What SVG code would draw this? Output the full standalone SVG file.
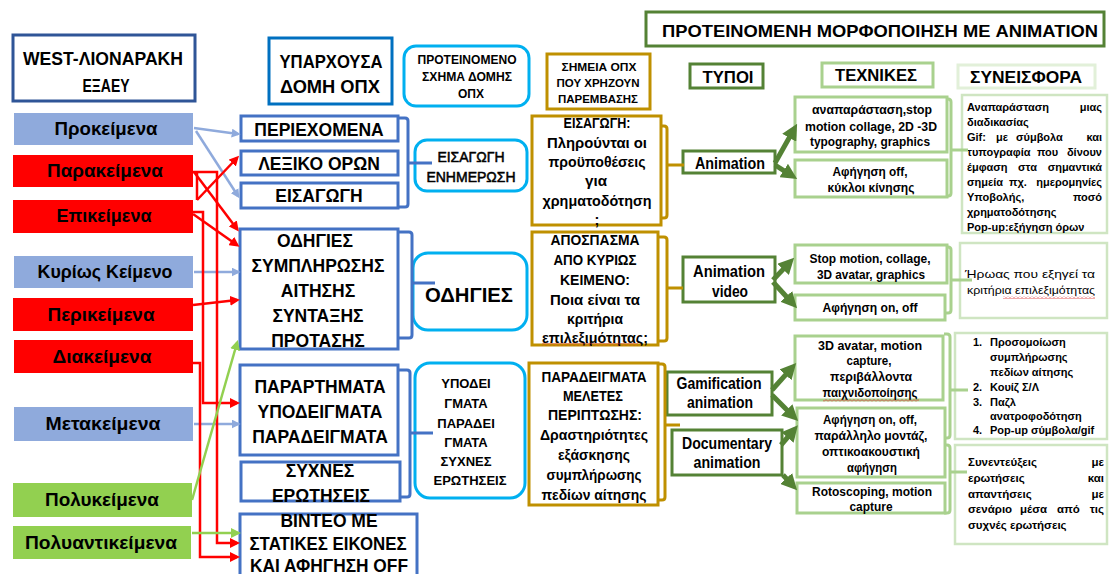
<svg xmlns="http://www.w3.org/2000/svg" width="1110" height="574" viewBox="0 0 1110 574">
<style>
text{font-family:"Liberation Sans",Arial,sans-serif;fill:#000}
.b{font-weight:bold}
.c{text-anchor:middle}
.e{text-anchor:end}
.bx{fill:#fff}
.lbl{font-weight:bold;text-anchor:middle;font-size:17.5px}
.mid{font-weight:bold;text-anchor:middle;font-size:17.5px}
.blue{stroke:#4472c4;stroke-width:3}
.gold{fill:#fff;stroke:#bf9000;stroke-width:3}
.gt{font-weight:bold;text-anchor:middle;font-size:14.5px}
.dg{fill:#fff;stroke:#548235;stroke-width:3}
.lg{fill:#fff;stroke:#a9d18e;stroke-width:3}
.cg{fill:#fff;stroke:#cfe5c2;stroke-width:2.5}
.tt{font-weight:bold;text-anchor:middle;font-size:12.5px}
.ct{font-weight:bold;font-size:11px}
.c4{font-weight:bold;font-size:11.5px}
.ty{font-weight:bold;text-anchor:middle;font-size:16px}
.rb{fill:#fff;stroke:#00b0f0;stroke-width:3}
.yp{font-weight:bold;text-anchor:middle;font-size:13px}
.br{fill:none;stroke-width:3;stroke-linejoin:round}
.ar{fill:none;stroke-width:2.5}
.thick{fill:none;stroke:#548235;stroke-width:5}
</style>
<defs>
<marker id="mb" viewBox="0 0 10 10" refX="7" refY="5" markerWidth="9" markerHeight="9" markerUnits="userSpaceOnUse" orient="auto"><path d="M0,0 L10,5 L0,10 z" fill="#8faadc"/></marker>
<marker id="mr" viewBox="0 0 10 10" refX="7" refY="5" markerWidth="10" markerHeight="10" markerUnits="userSpaceOnUse" orient="auto"><path d="M0,0 L10,5 L0,10 z" fill="#ff0000"/></marker>
<marker id="mg" viewBox="0 0 10 10" refX="7" refY="5" markerWidth="10" markerHeight="10" markerUnits="userSpaceOnUse" orient="auto"><path d="M0,0 L10,5 L0,10 z" fill="#92d050"/></marker>
<marker id="md" viewBox="0 0 10 10" refX="3" refY="5" markerWidth="16" markerHeight="16" markerUnits="userSpaceOnUse" orient="auto"><path d="M0,0 L10,5 L0,10 z" fill="#548235"/></marker>
<pattern id="sq" width="4" height="3" patternUnits="userSpaceOnUse"><path d="M0,2.5 L2,0.5 L4,2.5" stroke="#e03030" stroke-width="0.8" fill="none"/></pattern>
</defs>
<rect width="1110" height="574" fill="#fff"/>

<g id="title"><rect x="646" y="12" width="458" height="34" class="dg"/><text x="880" y="36.5" class="b c" font-size="17" textLength="436" lengthAdjust="spacingAndGlyphs">ΠΡΟΤΕΙΝΟΜΕΝΗ ΜΟΡΦΟΠΟΙΗΣΗ ΜΕ ANIMATION</text></g>

<g id="west"><rect x="13" y="35" width="182" height="66" class="bx" stroke="#2f5597" stroke-width="3"/><text x="103" y="65" class="b c" font-size="19" textLength="160" lengthAdjust="spacingAndGlyphs">WEST-ΛΙΟΝΑΡΑΚΗ</text><text x="106" y="92" class="b c" font-size="19" textLength="47" lengthAdjust="spacingAndGlyphs">ΕΞΑΕΥ</text></g>

<g id="yparxousa"><rect x="269" y="38" width="123" height="66" class="bx" stroke="#0070c0" stroke-width="3"/><text x="331" y="68" class="b c" font-size="18.5" textLength="103" lengthAdjust="spacingAndGlyphs">ΥΠΑΡΧΟΥΣΑ</text><text x="330" y="93" class="b c" font-size="18.5" textLength="100" lengthAdjust="spacingAndGlyphs">ΔΟΜΗ ΟΠΧ</text></g>

<g id="proteinomeno"><rect x="404" y="46" width="125" height="60" rx="12" class="rb"/><text x="467" y="64" class="b c" font-size="12" textLength="99" lengthAdjust="spacingAndGlyphs">ΠΡΟΤΕΙΝΟΜΕΝΟ</text><text x="467" y="81" class="b c" font-size="12" textLength="90" lengthAdjust="spacingAndGlyphs">ΣΧΗΜΑ ΔΟΜΗΣ</text><text x="471" y="98" class="b c" font-size="12">ΟΠΧ</text></g>

<g id="simeia"><rect x="547" y="54" width="103" height="55" class="gold"/><text x="599" y="71" class="b c" font-size="11" textLength="75" lengthAdjust="spacingAndGlyphs">ΣΗΜΕΙΑ ΟΠΧ</text><text x="598" y="87" class="b c" font-size="11" textLength="83" lengthAdjust="spacingAndGlyphs">ΠΟΥ ΧΡΗΖΟΥΝ</text><text x="598" y="103" class="b c" font-size="11" textLength="80" lengthAdjust="spacingAndGlyphs">ΠΑΡΕΜΒΑΣΗΣ</text></g>

<g id="typoi"><rect x="690" y="64" width="73" height="24" class="dg"/><text x="728" y="83" class="ty" textLength="51" lengthAdjust="spacingAndGlyphs">ΤΥΠΟΙ</text></g>
<g id="texnikes"><rect x="822" y="63" width="111" height="24" class="lg"/><text x="876" y="81" class="ty" textLength="82" lengthAdjust="spacingAndGlyphs">ΤΕΧΝΙΚΕΣ</text></g>
<g id="syneisfora"><rect x="958" y="65" width="137" height="23" class="bx" stroke="#e2f0d9" stroke-width="3"/><text x="1026" y="83" class="ty" textLength="112" lengthAdjust="spacingAndGlyphs">ΣΥΝΕΙΣΦΟΡΑ</text></g>

<g id="prokeimena"><rect x="14" y="113" width="179" height="32" fill="#8faadc"/><text x="106" y="135" class="lbl" textLength="103" lengthAdjust="spacingAndGlyphs">Προκείμενα</text></g>
<g id="parakeimena"><rect x="13" y="155" width="180" height="32" fill="#ff0000"/><text x="105" y="177" class="lbl" textLength="116" lengthAdjust="spacingAndGlyphs">Παρακείμενα</text></g>
<g id="epikeimena"><rect x="13" y="200" width="180" height="33" fill="#ff0000"/><text x="104" y="222" class="lbl" textLength="95" lengthAdjust="spacingAndGlyphs">Επικείμενα</text></g>
<g id="kyrios"><rect x="14" y="256" width="179" height="32" fill="#8faadc"/><text x="105" y="278" class="lbl" textLength="135" lengthAdjust="spacingAndGlyphs">Κυρίως Κείμενο</text></g>
<g id="perikeimena"><rect x="13" y="298" width="180" height="33" fill="#ff0000"/><text x="101" y="321" class="lbl" textLength="107" lengthAdjust="spacingAndGlyphs">Περικείμενα</text></g>
<g id="diakeimena"><rect x="14" y="340" width="179" height="33" fill="#ff0000"/><text x="102" y="363" class="lbl" textLength="99" lengthAdjust="spacingAndGlyphs">Διακείμενα</text></g>
<g id="metakeimena"><rect x="14" y="407" width="179" height="34" fill="#8faadc"/><text x="103" y="430" class="lbl" textLength="115" lengthAdjust="spacingAndGlyphs">Μετακείμενα</text></g>
<g id="polykeimena"><rect x="13" y="483" width="179" height="34" fill="#92d050"/><text x="102" y="506" class="lbl" textLength="114" lengthAdjust="spacingAndGlyphs">Πολυκείμενα</text></g>
<g id="polyantikeimena"><rect x="13" y="526" width="178" height="33" fill="#92d050"/><text x="101" y="549" class="lbl" textLength="152" lengthAdjust="spacingAndGlyphs">Πολυαντικείμενα</text></g>

<g id="periexomena"><rect x="241" y="116" width="157" height="25" class="bx blue"/><text x="319" y="136" class="mid">ΠΕΡΙΕΧΟΜΕΝΑ</text></g>
<g id="lexiko"><rect x="241" y="151" width="157" height="24" class="bx blue"/><text x="319" y="170" class="mid">ΛΕΞΙΚΟ ΟΡΩΝ</text></g>
<g id="eisagogi"><rect x="241" y="183" width="157" height="25" class="bx blue"/><text x="319" y="202" class="mid">ΕΙΣΑΓΩΓΗ</text></g>
<g id="odigies"><rect x="240" y="229" width="158" height="120" class="bx blue"/>
<text x="315" y="247" class="mid">ΟΔΗΓΙΕΣ</text>
<text x="318" y="272" class="mid">ΣΥΜΠΛΗΡΩΣΗΣ</text>
<text x="318" y="297" class="mid">ΑΙΤΗΣΗΣ</text>
<text x="318" y="322" class="mid">ΣΥΝΤΑΞΗΣ</text>
<text x="318" y="347" class="mid">ΠΡΟΤΑΣΗΣ</text></g>
<g id="parartimata"><rect x="240" y="365" width="158" height="90" class="bx blue"/>
<text x="320" y="393" class="mid">ΠΑΡΑΡΤΗΜΑΤΑ</text>
<text x="320" y="418" class="mid">ΥΠΟΔΕΙΓΜΑΤΑ</text>
<text x="320" y="443" class="mid">ΠΑΡΑΔΕΙΓΜΑΤΑ</text></g>
<g id="syxnes"><rect x="241" y="462" width="159" height="39" class="bx blue"/>
<text x="320" y="476.5" class="mid">ΣΥΧΝΕΣ</text>
<text x="321" y="501.5" class="mid">ΕΡΩΤΗΣΕΙΣ</text></g>
<g id="vinteo"><rect x="240" y="514" width="177" height="70" class="bx blue"/>
<text x="329" y="527" class="mid">ΒΙΝΤΕΟ ΜΕ</text>
<text x="328" y="550" class="mid" textLength="157" lengthAdjust="spacingAndGlyphs">ΣΤΑΤΙΚΕΣ ΕΙΚΟΝΕΣ</text>
<text x="329" y="572" class="mid" textLength="158" lengthAdjust="spacingAndGlyphs">ΚΑΙ ΑΦΗΓΗΣΗ OFF</text></g>

<g id="eisagogi-enimerosi"><rect x="415" y="140" width="112" height="51" rx="12" class="rb"/><text x="471" y="162" class="c" font-size="14" stroke="#000" stroke-width="0.5">ΕΙΣΑΓΩΓΗ</text><text x="471" y="182" class="c" font-size="14" stroke="#000" stroke-width="0.5">ΕΝΗΜΕΡΩΣΗ</text></g>
<g id="odigies-r"><rect x="413" y="253" width="114" height="77" rx="15" class="rb"/><text x="469" y="302" class="b c" font-size="20" textLength="88" lengthAdjust="spacingAndGlyphs">ΟΔΗΓΙΕΣ</text></g>
<g id="ypodeigmata-r"><rect x="415" y="363" width="110" height="135" rx="15" class="rb"/>
<text x="466" y="388" class="yp">ΥΠΟΔΕΙ</text>
<text x="466" y="408" class="yp">ΓΜΑΤΑ</text>
<text x="466" y="428" class="yp">ΠΑΡΑΔΕΙ</text>
<text x="466" y="447" class="yp">ΓΜΑΤΑ</text>
<text x="466" y="466" class="yp">ΣΥΧΝΕΣ</text>
<text x="470" y="485" class="yp">ΕΡΩΤΗΣΕΙΣ</text></g>

<g id="gold-eisagogi"><rect x="532" y="116" width="129" height="109" class="gold"/>
<text x="597" y="128" class="gt" textLength="67" lengthAdjust="spacingAndGlyphs">ΕΙΣΑΓΩΓΗ:</text>
<text x="597" y="148" class="gt" textLength="100" lengthAdjust="spacingAndGlyphs">Πληρούνται οι</text>
<text x="597" y="167" class="gt" textLength="97" lengthAdjust="spacingAndGlyphs">προϋποθέσεις</text>
<text x="596" y="186" class="gt" textLength="22" lengthAdjust="spacingAndGlyphs">για</text>
<text x="597" y="206" class="gt" textLength="109" lengthAdjust="spacingAndGlyphs">χρηματοδότηση</text>
<text x="597" y="225" class="gt">;</text></g>
<g id="gold-apospasma"><rect x="532" y="232" width="126" height="113" class="gold"/>
<text x="595" y="245" class="gt" textLength="89" lengthAdjust="spacingAndGlyphs">ΑΠΟΣΠΑΣΜΑ</text>
<text x="595" y="265" class="gt" textLength="83" lengthAdjust="spacingAndGlyphs">ΑΠΟ ΚΥΡΙΩΣ</text>
<text x="595" y="285" class="gt" textLength="70" lengthAdjust="spacingAndGlyphs">ΚΕΙΜΕΝΟ:</text>
<text x="595" y="305" class="gt" textLength="90" lengthAdjust="spacingAndGlyphs">Ποια είναι τα</text>
<text x="595" y="324" class="gt" textLength="56" lengthAdjust="spacingAndGlyphs">κριτήρια</text>
<text x="595" y="343" class="gt" textLength="106" lengthAdjust="spacingAndGlyphs">επιλεξιμότητας;</text>
<rect x="542" y="343" width="96" height="3" fill="url(#sq)"/></g>
<g id="gold-paradeigmata"><rect x="529" y="363" width="129" height="142" class="gold"/>
<text x="594" y="382" class="gt" textLength="105" lengthAdjust="spacingAndGlyphs">ΠΑΡΑΔΕΙΓΜΑΤΑ</text>
<text x="593" y="401" class="gt" textLength="60" lengthAdjust="spacingAndGlyphs">ΜΕΛΕΤΕΣ</text>
<text x="595" y="420" class="gt" textLength="94" lengthAdjust="spacingAndGlyphs">ΠΕΡΙΠΤΩΣΗΣ:</text>
<text x="594" y="440" class="gt" textLength="108" lengthAdjust="spacingAndGlyphs">Δραστηριότητες</text>
<text x="594" y="460" class="gt" textLength="72" lengthAdjust="spacingAndGlyphs">εξάσκησης</text>
<text x="594" y="480" class="gt" textLength="95" lengthAdjust="spacingAndGlyphs">συμπλήρωσης</text>
<text x="594" y="500" class="gt" textLength="105" lengthAdjust="spacingAndGlyphs">πεδίων αίτησης</text></g>

<g id="animation"><rect x="683" y="151" width="92" height="22" class="dg"/><text x="730" y="169" class="ty" textLength="70" lengthAdjust="spacingAndGlyphs">Animation</text></g>
<g id="animation-video"><rect x="683" y="257" width="92" height="45" class="dg"/><text x="729" y="277" class="ty" textLength="72" lengthAdjust="spacingAndGlyphs">Animation</text><text x="730" y="297" class="ty" textLength="36" lengthAdjust="spacingAndGlyphs">video</text></g>
<g id="gamification"><rect x="667" y="372" width="105" height="43" class="dg"/><text x="719" y="389" class="ty" textLength="85" lengthAdjust="spacingAndGlyphs">Gamification</text><text x="720" y="408" class="ty" textLength="66" lengthAdjust="spacingAndGlyphs">animation</text></g>
<g id="documentary"><rect x="672" y="430" width="110" height="45" class="dg"/><text x="727" y="449" class="ty" textLength="90" lengthAdjust="spacingAndGlyphs">Documentary</text><text x="727" y="468" class="ty" textLength="67" lengthAdjust="spacingAndGlyphs">animation</text></g>

<g id="tech1"><rect x="795" y="97" width="152" height="55" class="lg"/><text x="872" y="114" class="tt" textLength="120" lengthAdjust="spacingAndGlyphs">αναπαράσταση,stop</text><text x="871" y="131" class="tt" textLength="132" lengthAdjust="spacingAndGlyphs">motion collage, 2D -3D</text><text x="870" y="146" class="tt" textLength="120" lengthAdjust="spacingAndGlyphs">typography, graphics</text></g>
<g id="tech2"><rect x="795" y="160" width="152" height="37" class="lg"/><text x="870" y="176" class="tt" textLength="75" lengthAdjust="spacingAndGlyphs">Αφήγηση off,</text><text x="871" y="192" class="tt" textLength="87" lengthAdjust="spacingAndGlyphs">κύκλοι κίνησης</text></g>
<g id="tech3"><rect x="795" y="245" width="152" height="38" class="lg"/><text x="870" y="263" class="tt" textLength="121" lengthAdjust="spacingAndGlyphs">Stop motion, collage,</text><text x="871" y="279" class="tt" textLength="108" lengthAdjust="spacingAndGlyphs">3D avatar, graphics</text></g>
<g id="tech4"><rect x="795" y="295" width="150" height="25" class="lg"/><text x="870" y="312" class="tt" textLength="95" lengthAdjust="spacingAndGlyphs">Αφήγηση on, off</text></g>
<g id="tech5"><rect x="795" y="336" width="148" height="64" class="lg"/><text x="870" y="350" class="tt" textLength="104" lengthAdjust="spacingAndGlyphs">3D avatar, motion</text><text x="869" y="365" class="tt" textLength="45" lengthAdjust="spacingAndGlyphs">capture,</text><text x="871" y="381" class="tt" textLength="82" lengthAdjust="spacingAndGlyphs">περιβάλλοντα</text><text x="870" y="397" class="tt" textLength="95" lengthAdjust="spacingAndGlyphs">παιχνιδοποίησης</text><rect x="823" y="399" width="96" height="3" fill="url(#sq)"/></g>
<g id="tech6"><rect x="797" y="408" width="148" height="69" class="lg"/><text x="870" y="424" class="tt" textLength="94" lengthAdjust="spacingAndGlyphs">Αφήγηση on, off,</text><text x="871" y="440" class="tt" textLength="113" lengthAdjust="spacingAndGlyphs">παράλληλο μοντάζ,</text><text x="871" y="456" class="tt" textLength="98" lengthAdjust="spacingAndGlyphs">οπτικοακουστική</text><text x="872" y="472" class="tt" textLength="50" lengthAdjust="spacingAndGlyphs">αφήγηση</text></g>
<g id="tech7"><rect x="797" y="483" width="148" height="30" class="lg"/><text x="872" y="496" class="tt" textLength="120" lengthAdjust="spacingAndGlyphs">Rotoscoping, motion</text><text x="871" y="511" class="tt" textLength="43" lengthAdjust="spacingAndGlyphs">capture</text></g>

<g id="contrib1"><rect x="962" y="95" width="145" height="138" class="cg"/>
<text y="110.5" class="ct"><tspan x="967">Αναπαράσταση</tspan></text><text x="1102" y="110.5" class="ct e">μιας</text>
<text x="967" y="125.5" class="ct">διαδικασίας</text>
<text y="140.5" class="ct"><tspan x="967">Gif:</tspan><tspan x="996">με</tspan><tspan x="1016">σύμβολα</tspan></text><text x="1102" y="140.5" class="ct e">και</text>
<text y="155.5" class="ct"><tspan x="967">τυπογραφία</tspan><tspan x="1037">που</tspan></text><text x="1102" y="155.5" class="ct e">δίνουν</text>
<text y="170.5" class="ct"><tspan x="967">έμφαση</tspan><tspan x="1018">στα</tspan></text><text x="1102" y="170.5" class="ct e">σημαντικά</text>
<text y="185.5" class="ct"><tspan x="967">σημεία</tspan><tspan x="1009">πχ.</tspan></text><text x="1102" y="185.5" class="ct e">ημερομηνίες</text>
<text x="967" y="201" class="ct">Υποβολής,</text><text x="1102" y="201" class="ct e">ποσό</text>
<text x="967" y="215.5" class="ct">χρηματοδότησης</text>
<text x="967" y="230.5" class="ct">Pop-up:εξήγηση όρων</text></g>
<g id="contrib2"><rect x="960" y="243" width="147" height="75" class="cg"/>
<text x="965" y="278" font-size="11" textLength="130" lengthAdjust="spacingAndGlyphs">Ήρωας που εξηγεί τα</text>
<text x="967" y="294" font-size="11" textLength="128" lengthAdjust="spacingAndGlyphs">κριτήρια επιλεξιμότητας</text>
<rect x="1003" y="296" width="92" height="3" fill="url(#sq)"/></g>
<g id="contrib3"><rect x="955" y="333" width="152" height="106" class="cg"/>
<text x="973" y="345.5" class="ct">1.</text><text x="990" y="345.5" class="ct">Προσομοίωση</text>
<text x="990" y="360.5" class="ct">συμπλήρωσης</text>
<text x="990" y="375.5" class="ct">πεδίων αίτησης</text>
<text x="973" y="390.5" class="ct">2.</text><text x="990" y="390.5" class="ct">Κουίζ Σ/Λ</text>
<text x="973" y="405.5" class="ct">3.</text><text x="990" y="405.5" class="ct">Παζλ</text>
<text x="990" y="420" class="ct">ανατροφοδότηση</text>
<text x="973" y="434" class="ct">4.</text><text x="990" y="434" class="ct">Pop-up σύμβολα/gif</text></g>
<g id="contrib4"><rect x="955" y="445" width="152" height="99" class="cg"/>
<text x="968" y="466" class="c4">Συνεντεύξεις</text><text x="1104" y="466" class="c4 e">με</text>
<text x="968" y="482" class="c4">ερωτήσεις</text><text x="1104" y="482" class="c4 e">και</text>
<text x="968" y="497.5" class="c4">απαντήσεις</text><text x="1104" y="497.5" class="c4 e">με</text>
<text y="513" class="c4"><tspan x="968">σενάριο</tspan><tspan x="1020">μέσα</tspan><tspan x="1057">από</tspan></text><text x="1104" y="513" class="c4 e">τις</text>
<text x="968" y="528.5" class="c4">συχνές ερωτήσεις</text></g>

<g id="connectors">
<path class="br" stroke="#4472c4" d="M398,118 H405 Q408,118 408,121 V204 Q408,207 405,207 H398 M408,163 H432"/>
<path class="br" stroke="#4472c4" d="M398,232 H409 Q412,232 412,235 V335 Q412,338 409,338 H398 M412,283 H435"/>
<path class="br" stroke="#4472c4" d="M398,370 H407 Q410,370 410,373 V494 Q410,497 407,497 H400 M410,433 H433"/>
<path class="br" stroke="#bf9000" d="M660,126 H664 Q667,126 667,129 V215 Q667,218 664,218 H660 M667,165 H684"/>
<path class="br" stroke="#bf9000" d="M658,237 H664 Q667,237 667,240 V338 Q667,341 664,341 H658 M667,288 H683"/>
<path class="br" stroke="#bf9000" d="M658,364 H662 Q665,364 665,367 V497 Q665,500 662,500 H658 M665,425 H680"/>
<path class="br" stroke="#a9d18e" d="M946,99 H948 Q951,99 951,102 V193 Q951,196 948,196 H946 M951,150 H968"/>
<path class="br" stroke="#a9d18e" d="M946,247 H948 Q951,247 951,250 V310 Q951,313 948,313 H946 M951,280 H972"/>
<path class="br" stroke="#a9d18e" d="M944,334 H947 Q950,334 950,337 V435 Q950,438 947,438 H944 M950,390 H968"/>
<path class="br" stroke="#a9d18e" d="M944,445 H947 Q950,445 950,448 V510 Q950,513 947,513 H944 M950,472 H967"/>

<path class="thick" marker-end="url(#md)" d="M775,163 L791.6,133.6"/>
<path class="thick" marker-end="url(#md)" d="M775,165 L787.7,173.1"/>
<path class="thick" marker-end="url(#md)" d="M773,280 L786.4,265.9"/>
<path class="thick" marker-end="url(#md)" d="M773,282 L789.5,300"/>
<path class="thick" marker-end="url(#md)" d="M772,390 L788.7,371.3"/>
<path class="thick" marker-end="url(#md)" d="M772,395 L790.2,413.2"/>
<path class="thick" marker-end="url(#md)" d="M781,445 L790.6,433.8"/>
<path class="thick" marker-end="url(#md)" d="M783,475 L789.5,482"/>

<path class="ar" stroke="#8faadc" marker-end="url(#mb)" d="M194,128 L238,134"/>
<path class="ar" stroke="#8faadc" marker-end="url(#mb)" d="M196,131 L238,196"/>
<path class="ar" stroke="#8faadc" marker-end="url(#mb)" d="M194,272 L238,272"/>
<path class="ar" stroke="#8faadc" marker-end="url(#mb)" d="M194,424 L238,424"/>

<path class="ar" stroke="#ff0000" marker-end="url(#mr)" d="M194,172 L237,229"/>
<path class="ar" stroke="#ff0000" marker-end="url(#mr)" d="M197,200 L237,158"/>
<path class="ar" stroke="#ff0000" d="M197,172 V200"/>
<path class="ar" stroke="#ff0000" marker-end="url(#mr)" d="M193,214 L237,245"/>
<path class="ar" stroke="#ff0000" marker-end="url(#mr)" d="M193,305 L237,300"/>
<path class="ar" stroke="#ff0000" marker-end="url(#mr)" d="M193,172 H217 V543 H237"/>
<path class="ar" stroke="#ff0000" marker-end="url(#mr)" d="M193,212 H203 V403 H237"/>
<path class="ar" stroke="#ff0000" marker-end="url(#mr)" d="M193,363 H200 V557 H237"/>

<path class="ar" stroke="#92d050" marker-end="url(#mg)" d="M192,500 L237,343"/>
<path class="ar" stroke="#92d050" marker-end="url(#mg)" d="M192,533 L238,533"/>
</g>
</svg>
